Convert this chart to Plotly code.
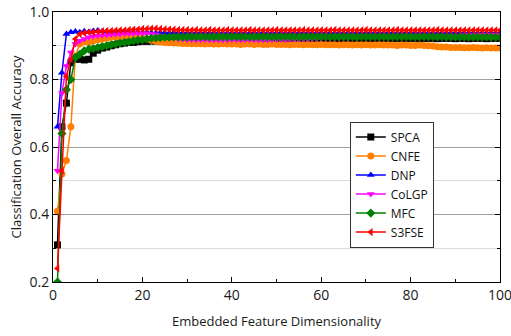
import plotly.graph_objects as go

dims = list(range(1, 101))

spca = [0.31,0.66,0.73,0.85,0.86,0.86,0.858,0.86,0.878,0.887,
0.893,0.896,0.90,0.903,0.906,0.908,0.91,0.91,0.912,0.913,
0.913,0.914,0.914,0.915,0.915,0.915,0.916,0.916,0.916,0.917,
0.917,0.917,0.918,0.917,0.918,0.918,0.917,0.918,0.918,0.919,
0.919,0.918,0.919,0.919,0.92,0.919,0.92,0.92,0.919,0.92,
0.92,0.92,0.921,0.92,0.92,0.921,0.92,0.921,0.921,0.92,
0.921,0.921,0.92,0.921,0.921,0.922,0.921,0.921,0.922,0.921,
0.921,0.922,0.921,0.922,0.922,0.921,0.922,0.922,0.921,0.922,
0.922,0.921,0.922,0.922,0.922,0.921,0.922,0.922,0.922,0.921,
0.922,0.922,0.921,0.922,0.922,0.922,0.921,0.922,0.922,0.922]

cnfe = [0.41,0.52,0.56,0.66,0.87,0.905,0.912,0.91,0.915,0.918,
0.92,0.922,0.925,0.926,0.927,0.928,0.928,0.927,0.926,0.924,
0.92,0.916,0.913,0.911,0.91,0.909,0.908,0.908,0.907,0.907,
0.906,0.906,0.906,0.905,0.906,0.905,0.905,0.906,0.905,0.905,
0.905,0.904,0.905,0.905,0.904,0.905,0.904,0.904,0.905,0.904,
0.904,0.904,0.903,0.904,0.904,0.903,0.904,0.903,0.903,0.904,
0.903,0.903,0.903,0.902,0.903,0.903,0.902,0.903,0.902,0.903,
0.902,0.902,0.903,0.902,0.902,0.902,0.901,0.902,0.902,0.901,
0.901,0.902,0.901,0.9,0.899,0.897,0.896,0.896,0.895,0.895,
0.895,0.894,0.894,0.895,0.894,0.893,0.894,0.893,0.893,0.893]

dnp = [0.66,0.82,0.935,0.94,0.942,0.94,0.943,0.941,0.944,0.945,
0.943,0.942,0.941,0.942,0.94,0.941,0.94,0.94,0.939,0.94,
0.939,0.939,0.938,0.939,0.938,0.938,0.939,0.938,0.938,0.937,
0.938,0.937,0.938,0.938,0.937,0.938,0.937,0.937,0.938,0.937,
0.937,0.938,0.937,0.937,0.938,0.937,0.938,0.937,0.937,0.938,
0.938,0.937,0.938,0.938,0.937,0.938,0.938,0.937,0.938,0.938,
0.938,0.938,0.937,0.938,0.938,0.938,0.937,0.938,0.938,0.938,
0.938,0.937,0.938,0.938,0.938,0.938,0.937,0.938,0.938,0.938,
0.938,0.938,0.938,0.937,0.938,0.938,0.938,0.938,0.937,0.938,
0.938,0.938,0.938,0.938,0.937,0.938,0.938,0.938,0.938,0.938]

colgp = [0.53,0.76,0.84,0.88,0.905,0.915,0.92,0.925,0.928,0.93,
0.931,0.932,0.933,0.934,0.935,0.936,0.936,0.937,0.937,0.937,
0.936,0.935,0.933,0.93,0.927,0.924,0.922,0.92,0.919,0.918,
0.918,0.917,0.917,0.918,0.917,0.917,0.918,0.917,0.917,0.918,
0.918,0.917,0.918,0.918,0.918,0.917,0.918,0.918,0.918,0.919,
0.919,0.918,0.919,0.919,0.92,0.92,0.92,0.921,0.921,0.922,
0.922,0.923,0.923,0.923,0.924,0.924,0.924,0.925,0.925,0.925,
0.925,0.926,0.926,0.926,0.926,0.927,0.927,0.927,0.927,0.928,
0.928,0.928,0.928,0.929,0.929,0.929,0.929,0.93,0.93,0.93,
0.93,0.931,0.931,0.931,0.931,0.932,0.932,0.932,0.932,0.932]

mfc = [0.2,0.64,0.77,0.80,0.865,0.875,0.885,0.89,0.892,0.895,
0.898,0.90,0.903,0.905,0.908,0.91,0.912,0.915,0.917,0.918,
0.92,0.922,0.923,0.924,0.925,0.925,0.926,0.926,0.926,0.926,
0.927,0.926,0.927,0.927,0.926,0.927,0.927,0.927,0.926,0.927,
0.927,0.927,0.927,0.926,0.927,0.927,0.927,0.927,0.926,0.927,
0.927,0.927,0.927,0.927,0.926,0.927,0.927,0.927,0.927,0.927,
0.927,0.926,0.927,0.927,0.927,0.927,0.927,0.926,0.927,0.927,
0.927,0.927,0.927,0.927,0.926,0.927,0.927,0.927,0.927,0.927,
0.926,0.927,0.927,0.927,0.927,0.926,0.927,0.926,0.926,0.926,
0.926,0.926,0.925,0.926,0.926,0.925,0.926,0.925,0.925,0.925]

s3fse = [0.24,0.53,0.81,0.86,0.92,0.935,0.938,0.94,0.94,0.942,
0.943,0.944,0.944,0.945,0.946,0.946,0.947,0.948,0.948,0.95,
0.95,0.951,0.951,0.95,0.949,0.948,0.948,0.947,0.947,0.947,
0.946,0.947,0.946,0.946,0.947,0.946,0.946,0.946,0.947,0.946,
0.946,0.946,0.946,0.947,0.946,0.946,0.946,0.946,0.946,0.947,
0.946,0.946,0.946,0.946,0.946,0.947,0.946,0.946,0.946,0.946,
0.946,0.946,0.947,0.946,0.946,0.946,0.946,0.946,0.946,0.947,
0.946,0.946,0.946,0.946,0.946,0.946,0.947,0.946,0.946,0.946,
0.946,0.946,0.946,0.946,0.946,0.947,0.946,0.946,0.946,0.946,
0.946,0.946,0.946,0.946,0.946,0.946,0.946,0.946,0.946,0.946]

names = ["SPCA", "CNFE", "DNP", "CoLGP", "MFC", "S3FSE"]
series = [spca, cnfe, dnp, colgp, mfc, s3fse]
colors = ["#000000", "#FF8000", "#0000FF", "#FF00FF", "#008000", "#FF0000"]
symbols = ["square", "circle", "triangle-up", "triangle-down", "diamond", "triangle-left"]

x_ticks = [0, 20, 40, 60, 80, 100]
y_ticks = [0.2, 0.4, 0.6, 0.8, 1.0]
y_labels = ["0.2", "0.4", "0.6", "0.8", "1.0"]

font_family = "Open Sans, Noto Sans, sans-serif"

fig = go.Figure()
for n, s, c, m in zip(names, series, colors, symbols):
    fig.add_trace(go.Scatter(
        x=dims, y=s, name=n, mode="lines+markers",
        line=dict(color=c, width=1.5),
        marker=dict(symbol=m, size=7, color=c),
    ))

fig.update_layout(
    width=511, height=336,
    margin=dict(l=53, r=11, t=12, b=54),
    paper_bgcolor="white", plot_bgcolor="white",
    font=dict(family=font_family, color="#1a1a1a", size=13),
    showlegend=True,
    legend=dict(
        x=0.664, y=0.594, xanchor="left", yanchor="top",
        bgcolor="white", bordercolor="#333333", borderwidth=1,
        font=dict(size=12, color="#111111"),
        itemwidth=30, tracegroupgap=0,
    ),
)

fig.update_xaxes(
    range=[0, 100], tickvals=x_ticks, ticktext=[str(v) for v in x_ticks],
    automargin=False, ticklabeloverflow="allow",
    showgrid=False, zeroline=False,
    showline=True, linecolor="#000000", linewidth=1, mirror="allticks",
    ticks="inside", ticklen=5, tickcolor="#000000",
    minor=dict(dtick=10, ticks="inside", ticklen=3, tickcolor="#000000"),
    tickfont=dict(size=14, color="#1a1a1a"),
    title=dict(text="Embedded Feature Dimensionality", font=dict(size=13, color="#1a1a1a"), standoff=14),
)

fig.update_yaxes(
    range=[0.2, 1.0], tickvals=y_ticks, ticktext=y_labels,
    automargin=False, ticklabeloverflow="allow",
    showgrid=True, gridcolor="#a0a0a0", gridwidth=1, zeroline=False,
    showline=True, linecolor="#000000", linewidth=1, mirror="allticks",
    ticks="inside", ticklen=5, tickcolor="#000000",
    minor=dict(tickvals=[0.3, 0.5, 0.7, 0.9], ticks="inside", ticklen=3, tickcolor="#000000",
               showgrid=True, gridcolor="#dcdcdc", gridwidth=1),
    tickfont=dict(size=14, color="#1a1a1a"),
    title=dict(text="Classification Overall Accuracy", font=dict(size=13, color="#1a1a1a"), standoff=4),
)

fig.write_html("out.html")
